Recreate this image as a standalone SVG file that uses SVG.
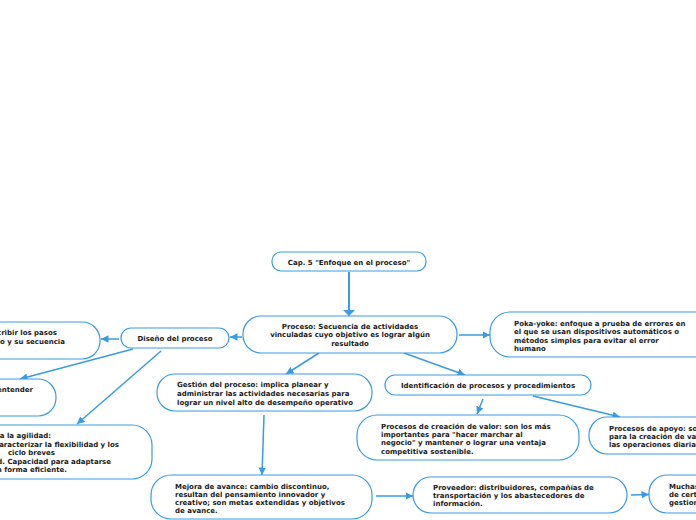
<svg xmlns="http://www.w3.org/2000/svg" width="696" height="520" viewBox="0 0 696 520">
<style>
.n{fill:#fff;stroke:#3a9be0;stroke-width:1.2}
.t{font-family:"DejaVu Sans",Verdana,sans-serif;font-weight:bold;font-size:7px;fill:#1a1a1a}
.c{text-anchor:middle}
.e{text-anchor:end}
.l{fill:none;stroke:#3a9be0;stroke-width:1.5}
.lb{fill:none;stroke:#3a9be0;stroke-width:2}
</style>
<defs>
<marker id="ah" viewBox="0 0 10 10" refX="10" refY="5" markerWidth="5" markerHeight="5" orient="auto" markerUnits="strokeWidth"><path d="M0,0L10,5L0,10z" fill="#3a9be0"/></marker>
<marker id="ahb" viewBox="0 0 6 12" refX="6" refY="6" markerWidth="3" markerHeight="6" orient="auto" markerUnits="strokeWidth"><path d="M0,0L6,6L0,12z" fill="#3a9be0"/></marker>
</defs>
<rect width="696" height="520" fill="#fff"/>
<g id="connectors">
<line class="lb" x1="349" y1="272" x2="349" y2="316" marker-end="url(#ahb)"/>
<line class="l" x1="242" y1="337" x2="230" y2="337" marker-end="url(#ah)"/>
<line class="l" x1="459" y1="335" x2="490" y2="335" marker-end="url(#ah)"/>
<line class="l" x1="319" y1="353" x2="286" y2="374" marker-end="url(#ah)"/>
<line class="l" x1="404" y1="353" x2="465" y2="375" marker-end="url(#ah)"/>
<line class="l" x1="119" y1="339" x2="101" y2="339" marker-end="url(#ah)"/>
<line class="l" x1="133" y1="349" x2="20" y2="379" marker-end="url(#ah)"/>
<line class="l" x1="161" y1="351" x2="77" y2="424" marker-end="url(#ah)"/>
<line class="l" x1="264" y1="415" x2="262" y2="475" marker-end="url(#ah)"/>
<line class="l" x1="483" y1="399" x2="477" y2="414" marker-end="url(#ah)"/>
<line class="l" x1="533" y1="396" x2="620" y2="417" marker-end="url(#ah)"/>
<line class="l" x1="376" y1="496" x2="413" y2="496" marker-end="url(#ah)"/>
<line class="l" x1="631" y1="495" x2="649" y2="494.5" marker-end="url(#ah)"/>
</g>
<g id="cap">
<rect class="n" x="272" y="252" width="154" height="19" rx="9"/>
<text class="t c" x="349" y="264.5">Cap. 5 "Enfoque en el proceso"</text>
</g>
<g id="proceso">
<rect class="n" x="243" y="316" width="214" height="37" rx="18"/>
<text class="t c" x="350" y="328.5">Proceso: Secuencia de actividades</text>
<text class="t c" x="350" y="337">vinculadas cuyo objetivo es lograr algún</text>
<text class="t c" x="350" y="346">resultado</text>
</g>
<g id="pokayoke">
<rect class="n" x="490" y="312" width="230" height="45" rx="20"/>
<text class="t" x="514" y="325.5">Poka-yoke: enfoque a prueba de errores en</text>
<text class="t" x="514" y="334">el que se usan dispositivos automáticos o</text>
<text class="t" x="514" y="342.5">métodos simples para evitar el error</text>
<text class="t" x="514" y="351">humano</text>
</g>
<g id="diseno">
<rect class="n" x="121" y="328" width="108" height="20" rx="10"/>
<text class="t c" x="175" y="341">Diseño del proceso</text>
</g>
<g id="describir">
<rect class="n" x="-100" y="322" width="200" height="37" rx="18"/>
<text class="t e" x="57" y="334.5">cribir los pasos</text>
<text class="t e" x="65" y="343.5">so y su secuencia</text>
</g>
<g id="entender">
<rect class="n" x="-100" y="379" width="156" height="37" rx="18"/>
<text class="t e" x="33" y="391.5">entender</text>
</g>
<g id="agilidad">
<rect class="n" x="-100" y="425" width="252" height="54" rx="20"/>
<text class="t e" x="51" y="437.5">ra la agilidad:</text>
<text class="t e" x="119" y="446.5">aracterizar la flexibilidad y los</text>
<text class="t e" x="55" y="454.5">ciclo breves</text>
<text class="t e" x="111" y="463.5">d. Capacidad para adaptarse</text>
<text class="t e" x="67" y="471.5">n forma eficiente.</text>
</g>
<g id="gestion">
<rect class="n" x="157" y="374" width="215" height="37" rx="18"/>
<text class="t" x="177" y="386.5">Gestión del proceso: implica planear y</text>
<text class="t" x="177" y="395.5">administrar las actividades necesarias para</text>
<text class="t" x="177" y="404.5">lograr un nivel alto de desempeño operativo</text>
</g>
<g id="identificacion">
<rect class="n" x="385" y="375" width="206" height="20" rx="10"/>
<text class="t c" x="488" y="388">Identificación de procesos y procedimientos</text>
</g>
<g id="creacion">
<rect class="n" x="357" y="415" width="222" height="45" rx="20"/>
<text class="t" x="381" y="428.5">Procesos de creación de valor: son los más</text>
<text class="t" x="381" y="436.5">importantes para "hacer marchar al</text>
<text class="t" x="381" y="445">negocio" y mantener o lograr una ventaja</text>
<text class="t" x="381" y="453.5">competitiva sostenible.</text>
</g>
<g id="apoyo">
<rect class="n" x="589" y="417" width="150" height="37" rx="18"/>
<text class="t" x="609" y="430.5">Procesos de apoyo: so</text>
<text class="t" x="609" y="438.5">para la creación de va</text>
<text class="t" x="609" y="446.5">las operaciones diaria</text>
</g>
<g id="mejora">
<rect class="n" x="151" y="475" width="221" height="44" rx="20"/>
<text class="t" x="175" y="488.5">Mejora de avance: cambio discontinuo,</text>
<text class="t" x="175" y="496.5">resultan del pensamiento innovador y</text>
<text class="t" x="175" y="504.5">creativo; son metas extendidas y objetivos</text>
<text class="t" x="175" y="512.5">de avance.</text>
</g>
<g id="proveedor">
<rect class="n" x="413" y="477" width="214" height="36" rx="18"/>
<text class="t" x="433" y="489.5">Proveedor: distribuidores, compañías de</text>
<text class="t" x="433" y="497.5">transportación y los abastecedores de</text>
<text class="t" x="433" y="506">información.</text>
</g>
<g id="muchas">
<rect class="n" x="649" y="475" width="100" height="38" rx="18"/>
<text class="t" x="669" y="488.5">Muchas</text>
<text class="t" x="669" y="496.5">de cert</text>
<text class="t" x="669" y="504.5">gestion</text>
</g>
</svg>
